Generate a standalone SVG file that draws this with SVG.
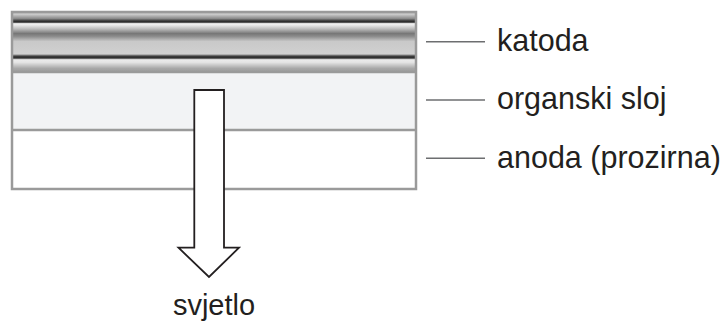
<svg xmlns="http://www.w3.org/2000/svg" width="725" height="322" viewBox="0 0 725 322">
<style>
.lbl{font-family:"Liberation Sans",Arial,sans-serif;font-size:30.5px;fill:#231f20}
.cap{font-family:"Liberation Sans",Arial,sans-serif;font-size:29px;fill:#231f20}
.lead{stroke:#6d6e70;stroke-width:1.5}
.layer{stroke:#9a9a9a;stroke-width:2.5}
</style>
<defs>
<linearGradient id="cath" gradientUnits="userSpaceOnUse" x1="0" y1="12" x2="0" y2="72">
<stop offset="0" stop-color="#b9b9b9"/>
<stop offset="0.04" stop-color="#cacaca"/>
<stop offset="0.11" stop-color="#8a8a8a"/>
<stop offset="0.15" stop-color="#333"/>
<stop offset="0.17" stop-color="#2a2a2a"/>
<stop offset="0.19" stop-color="#dcdcdc"/>
<stop offset="0.21" stop-color="#efefef"/>
<stop offset="0.28" stop-color="#bdbdbd"/>
<stop offset="0.36" stop-color="#767676"/>
<stop offset="0.41" stop-color="#8e8e8e"/>
<stop offset="0.49" stop-color="#c9c9c9"/>
<stop offset="0.70" stop-color="#d0d0d0"/>
<stop offset="0.725" stop-color="#6a6a6a"/>
<stop offset="0.75" stop-color="#222"/>
<stop offset="0.77" stop-color="#444"/>
<stop offset="0.795" stop-color="#ececec"/>
<stop offset="0.84" stop-color="#e4e4e4"/>
<stop offset="0.94" stop-color="#a8a8a8"/>
<stop offset="1" stop-color="#9a9a9a"/>
</linearGradient>
</defs>
<g id="katoda">
<rect x="12" y="12" width="404" height="60" fill="url(#cath)"/>
</g>
<g id="organski-sloj">
<rect x="12" y="72" width="404" height="58" fill="#f2f3f5"/>
</g>
<g id="anoda">
<rect x="12" y="130" width="404" height="59" fill="#ffffff"/>
</g>
<g id="frame">
<rect x="12" y="12" width="404" height="177" fill="none" class="layer"/>
<line x1="12" y1="72" x2="416" y2="72" class="layer"/>
<line x1="12" y1="130" x2="416" y2="130" class="layer"/>
</g>
<g id="svjetlo-arrow">
<path d="M194.3,90 H224 V247.7 H239 L209,277 L178.5,247.7 H194.3 Z" fill="#ffffff" stroke="#231f20" stroke-width="1.8" stroke-linejoin="miter"/>
</g>
<g id="connectors">
<line x1="426" y1="41.7" x2="485" y2="41.7" class="lead"/>
<line x1="426" y1="100" x2="485" y2="100" class="lead"/>
<line x1="426" y1="158.3" x2="485" y2="158.3" class="lead"/>
</g>
<g id="labels">
<text class="lbl" x="497" y="51">katoda</text>
<text class="lbl" x="497" y="109">organski sloj</text>
<text class="lbl" x="497" y="168">anoda (prozirna)</text>
<text class="cap" x="214" y="315" text-anchor="middle">svjetlo</text>
</g>
</svg>
